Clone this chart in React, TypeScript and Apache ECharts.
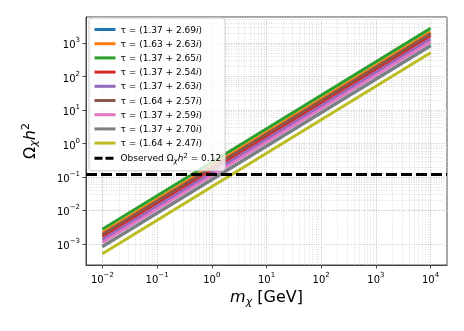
import React, { useEffect, useRef } from 'react';
import * as echarts from 'echarts';

// ---- data ----
const massRange = [0.01, 10000];
const tauLabels = [
  'τ = (1.37 + 2.69i)',
  'τ = (1.63 + 2.63i)',
  'τ = (1.37 + 2.65i)',
  'τ = (1.37 + 2.54i)',
  'τ = (1.37 + 2.63i)',
  'τ = (1.64 + 2.57i)',
  'τ = (1.37 + 2.59i)',
  'τ = (1.37 + 2.70i)',
  'τ = (1.64 + 2.47i)',
];
const omegaAtMinMass = [0.00084, 0.00214, 0.00275, 0.00166, 0.00132, 0.00191, 0.0011, 0.00083, 0.00051];
const omegaAtMaxMass = [840, 2140, 2750, 1660, 1320, 1910, 1100, 830, 513];
const observedOmega = 0.12;
const observedName = 'Observed Ωχh² = 0.12';
const lineColors = ['#1f77b4', '#ff7f0e', '#2ca02c', '#d62728', '#9467bd', '#8c564b', '#e377c2', '#7f7f7f', '#bcbd22'];
const xExtentExp = [-2.3, 4.3];
const yExtentExp = [-3.63, 3.78];

const FONT = 'DejaVu Sans';

function minorValues(lo: number, hi: number): number[] {
  const out: number[] = [];
  for (let k = Math.floor(lo) - 1; k <= Math.ceil(hi); k++) {
    for (let m = 1; m <= 9; m++) {
      const v = m * Math.pow(10, k);
      const lv = Math.log10(v);
      if (lv > lo + 1e-6 && lv < hi - 1e-6) out.push(v);
    }
  }
  return out;
}

const supRich = {
  b: { fontSize: 10, fontFamily: FONT, color: '#000', verticalAlign: 'bottom', lineHeight: 13 },
  sup: { fontSize: 7, fontFamily: FONT, color: '#000', verticalAlign: 'bottom', lineHeight: 7, padding: [0, 0, 6, 0] },
};

function expLabel(v: number) {
  const e = Math.round(Math.log10(v));
  const s = e < 0 ? '−' + Math.abs(e) : String(e);
  return '{b|10}{sup|' + s + '}';
}

export default function App() {
  const ref = useRef<HTMLDivElement>(null);
  useEffect(() => {
    if (!ref.current) return;
    const chart = echarts.init(ref.current, null, { renderer: 'svg' });
    const gridLine = { color: '#cfcfcf', width: 0.7, type: [1, 1.5] };
    const series: any[] = [
      {
        name: '__grid',
        type: 'line',
        data: [],
        silent: true,
        z: 0,
        markLine: {
          silent: true,
          z: 0,
          symbol: ['none', 'none'],
          label: { show: false },
          lineStyle: gridLine,
          data: [
            ...minorValues(xExtentExp[0], xExtentExp[1]).map((v) => ({ xAxis: v })),
            ...minorValues(yExtentExp[0], yExtentExp[1]).map((v) => ({ yAxis: v })),
          ],
        },
      },
    ];
    tauLabels.forEach((name, i) => {
      series.push({
        name,
        type: 'line',
        symbol: 'none',
        z: 2,
        color: lineColors[i],
        lineStyle: { width: 3, color: lineColors[i] },
        data: [
          [massRange[0], omegaAtMinMass[i]],
          [massRange[1], omegaAtMaxMass[i]],
        ],
      });
    });
    series.push({
      name: observedName,
      type: 'line',
      symbol: 'none',
      color: '#000',
      lineStyle: { width: 3, color: '#000', type: [8, 3] },
      data: [],
      markLine: {
        silent: true,
        z: 3,
        symbol: ['none', 'none'],
        label: { show: false },
        lineStyle: { width: 3, color: '#000', type: [11, 4] },
        data: [{ yAxis: observedOmega }],
      },
    });

    const legendRich = {
      it: { fontSize: 9, fontFamily: FONT, fontStyle: 'italic', color: '#000' },
      sub: { fontSize: 7, fontFamily: FONT, fontStyle: 'italic', color: '#000', verticalAlign: 'top', padding: [6, 0, 0, 0] },
      sup: { fontSize: 7, fontFamily: FONT, color: '#000', verticalAlign: 'bottom', padding: [0, 0, 5, 0] },
    };

    chart.setOption({
      animation: false,
      grid: { left: 86, right: 17, top: 17, bottom: 66, show: true, borderColor: '#444', borderWidth: 1, backgroundColor: 'transparent' },
      legend: {
        left: 89,
        top: 18,
        z: 10,
        orient: 'vertical',
        itemWidth: 21,
        itemHeight: 10,
        itemGap: 5.2,
        padding: [7, 4, 6, 4],
        backgroundColor: 'rgba(255,255,255,0.8)',
        borderColor: '#cccccc',
        borderWidth: 1,
        borderRadius: 3,
        lineStyle: { width: 3 },
        itemStyle: { opacity: 0 },
        data: [...tauLabels, observedName],
        textStyle: { fontSize: 9, fontFamily: FONT, color: '#000', rich: legendRich },
        formatter: (name: string) => {
          if (name === observedName) return 'Observed Ω{sub|χ}{it|h}{sup|2} = 0.12';
          return name.replace(/i\)$/, '{it|i})');
        },
      },
      xAxis: {
        type: 'log',
        min: Math.pow(10, xExtentExp[0]),
        max: Math.pow(10, xExtentExp[1]),
        name: '{it|m}{sub|χ} [GeV]',
        nameLocation: 'middle',
        nameGap: 21,
        nameTextStyle: {
          fontSize: 16,
          fontFamily: FONT,
          color: '#000',
          rich: {
            it: { fontSize: 16, fontFamily: FONT, fontStyle: 'italic', color: '#000' },
            sub: { fontSize: 11, fontFamily: FONT, fontStyle: 'italic', color: '#000', verticalAlign: 'top', padding: [9, 0, 0, 0] },
          },
        },
        axisLine: { show: true, lineStyle: { color: '#444', width: 1 } },
        axisTick: { show: true, length: 3.5, lineStyle: { color: '#444' } },
        axisLabel: { showMinLabel: false, showMaxLabel: false, margin: 6, formatter: expLabel, rich: supRich },
        splitLine: { show: true, lineStyle: { color: '#bdbdbd', width: 0.8, type: [1, 1.5] } },
      },
      yAxis: {
        type: 'log',
        min: Math.pow(10, yExtentExp[0]),
        max: Math.pow(10, yExtentExp[1]),
        name: 'Ω{sub|χ}{it|h}{sup|2}',
        nameLocation: 'middle',
        nameGap: 47,
        nameTextStyle: {
          fontSize: 16,
          fontFamily: FONT,
          color: '#000',
          rich: {
            it: { fontSize: 16, fontFamily: FONT, fontStyle: 'italic', color: '#000' },
            sub: { fontSize: 11, fontFamily: FONT, fontStyle: 'italic', color: '#000', verticalAlign: 'top', padding: [9, 0, 0, 0] },
            sup: { fontSize: 11, fontFamily: FONT, color: '#000', verticalAlign: 'bottom', padding: [0, 0, 8, 0] },
          },
        },
        axisLine: { show: true, lineStyle: { color: '#444', width: 1 } },
        axisTick: { show: true, length: 3.5, lineStyle: { color: '#444' } },
        axisLabel: { showMinLabel: false, showMaxLabel: false, margin: 6, formatter: expLabel, rich: supRich },
        splitLine: { show: true, lineStyle: { color: '#bdbdbd', width: 0.8, type: [1, 1.5] } },
      },
      series,
    });
    return () => chart.dispose();
  }, []);
  return <div ref={ref} style={{ position: 'fixed', left: 0, top: 0, width: 464, height: 331 }} />;
}
